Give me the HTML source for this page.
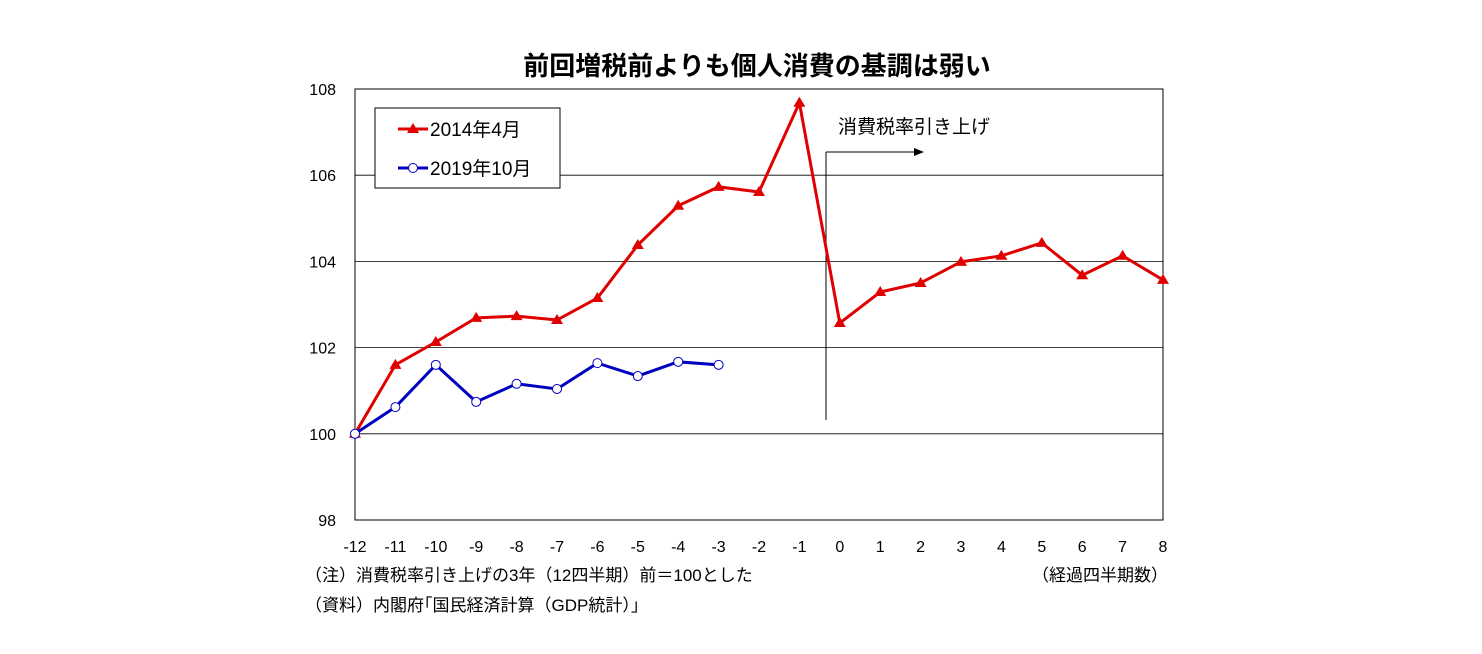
<!DOCTYPE html>
<html><head><meta charset="utf-8"><style>
html,body{margin:0;padding:0;background:#fff;width:1482px;height:654px;overflow:hidden}
svg text{font-family:"Liberation Sans","Noto Sans CJK JP",sans-serif;fill:#000}
</style></head><body>
<svg id="chart" width="1482" height="654">
<text x="757" y="75" text-anchor="middle" font-size="26" font-weight="bold">前回増税前よりも個人消費の基調は弱い</text>
<g id="grid"></g>
<rect x="355" y="89" width="808" height="431" fill="none" stroke="#000" stroke-width="1"/>
<g id="yt"></g><g id="xt"></g>
<line x1="826" y1="420" x2="826" y2="152" stroke="#000" stroke-width="1"/>
<line x1="826" y1="152" x2="918" y2="152" stroke="#000" stroke-width="1"/>
<polygon points="924,152 914,148 914,156" fill="#000"/>
<text x="838" y="133" font-size="19">消費税率引き上げ</text>
<g id="series"></g>
<g>
<rect x="375" y="108" width="185" height="80" fill="#fff" stroke="#000" stroke-width="1"/>
<line x1="398" y1="129" x2="428" y2="129" stroke="#e00000" stroke-width="3"/>
<polygon points="413,123 419,133 407,133" fill="#e00000"/>
<text x="430" y="136" font-size="19">2014年4月</text>
<line x1="398" y1="168" x2="428" y2="168" stroke="#0000c0" stroke-width="3"/>
<circle cx="413" cy="168" r="4.5" fill="#fff" stroke="#0000c0" stroke-width="1"/>
<text x="430" y="175" font-size="19">2019年10月</text>
</g>
<text x="305" y="581" font-size="17">（注）消費税率引き上げの3年（12四半期）前＝100とした</text>
<text x="305" y="611" font-size="17">（資料）内閣府｢国民経済計算（GDP統計）｣</text>
<text x="1168" y="581" font-size="17" text-anchor="end">（経過四半期数）</text>
</svg>
<script>
const quarters=[-12,-11,-10,-9,-8,-7,-6,-5,-4,-3,-2,-1,0,1,2,3,4,5,6,7,8];
const red2014=[100,101.6,102.13,102.69,102.73,102.64,103.15,104.38,105.29,105.73,105.61,107.68,102.57,103.29,103.5,103.99,104.13,104.43,103.68,104.13,103.57];
const blue2019=[100,100.62,101.6,100.74,101.16,101.04,101.64,101.34,101.67,101.6];
const yTicks=[98,100,102,104,106,108];
const NS="http://www.w3.org/2000/svg";
const X=q=>355+(q+12)*808/20, Y=v=>520-(v-98)*431/10;
function mk(t,a,p){const e=document.createElementNS(NS,t);for(const k in a)e.setAttribute(k,a[k]);document.getElementById(p).appendChild(e);return e;}
yTicks.forEach(v=>{
 if(v>98&&v<108){const l=mk('line',{x1:355,x2:1163,y1:Y(v),y2:Y(v),stroke:'#000','stroke-width':0.8},'grid');
 
 }
 const t=mk('text',{x:336,y:Y(v)+6,'text-anchor':'end','font-size':16},'yt');t.textContent=v;
 
 
});
quarters.forEach(q=>{const t=mk('text',{x:X(q),y:552,'text-anchor':'middle','font-size':16},'xt');t.textContent=q;
 
 });
const rp=mk('polyline',{points:red2014.map((v,i)=>X(quarters[i])+','+Y(v)).join(' '),fill:'none',stroke:'#e00000','stroke-width':3},'series');


red2014.forEach((v,i)=>{const x=X(quarters[i]),y=Y(v);
 const p=mk('polygon',{points:`${x},${y-6} ${x+6},${y+4} ${x-6},${y+4}`,fill:'#e00000'},'series');
 
 });
const bp=mk('polyline',{points:blue2019.map((v,i)=>X(quarters[i])+','+Y(v)).join(' '),fill:'none',stroke:'#0000c0','stroke-width':3},'series');


blue2019.forEach((v,i)=>{const c=mk('circle',{cx:X(quarters[i]),cy:Y(v),r:4.5,fill:'#fff',stroke:'#0000c0','stroke-width':1},'series');
 
 });
</script>
</body></html>
